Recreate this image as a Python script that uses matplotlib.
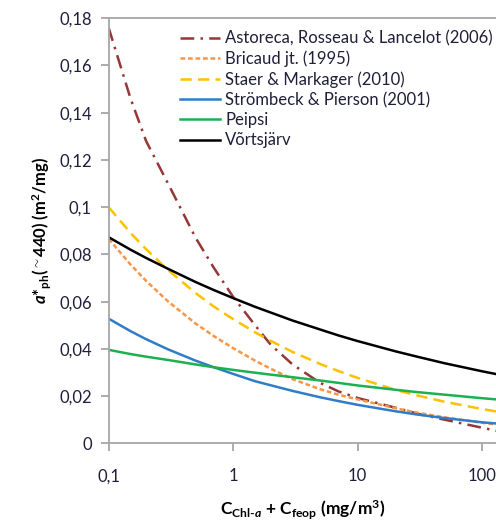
import numpy as np
import matplotlib
matplotlib.use("Agg")
import matplotlib.pyplot as plt
from matplotlib.ticker import FixedLocator, NullLocator

plt.rcParams['font.family'] = ['Lato', 'DejaVu Sans']
plt.rcParams['mathtext.fontset'] = 'custom'
plt.rcParams['mathtext.rm'] = 'Lato:bold'
plt.rcParams['mathtext.it'] = 'Lato:italic:bold'
plt.rcParams['mathtext.bf'] = 'Lato:bold'

# chlorophyll concentration (mg/m3)
conc = [0.1, 0.15, 0.2, 0.3, 0.5, 0.7, 1, 1.5, 2, 3, 5, 7, 10, 20, 30, 50, 100, 130]

astoreca = [0.176, 0.146, 0.128, 0.110, 0.087, 0.0743, 0.062, 0.050, 0.0418, 0.0334,
            0.0256, 0.0220, 0.0192, 0.0151, 0.0126, 0.0100, 0.0066, 0.0053]
bricaud = [0.0866, 0.0757, 0.0688, 0.0601, 0.0507, 0.0454, 0.0403, 0.0350, 0.0316, 0.0272,
           0.0229, 0.0206, 0.0186, 0.0149, 0.0130, 0.0110, 0.0087, 0.0080]
staer = [0.100, 0.0891, 0.0822, 0.0734, 0.0636, 0.0579, 0.0526, 0.0470, 0.0434, 0.0387,
         0.0336, 0.0306, 0.0277, 0.0227, 0.0203, 0.0176, 0.0145, 0.0135]
strombeck = [0.0528, 0.0475, 0.0441, 0.0398, 0.0350, 0.0322, 0.0294, 0.0263, 0.0246, 0.0222,
             0.0195, 0.0179, 0.0163, 0.0136, 0.0122, 0.0107, 0.0089, 0.0084]
peipsi = [0.0396, 0.0378, 0.0367, 0.0353, 0.0334, 0.0322, 0.0311, 0.0299, 0.0291, 0.0280,
          0.0266, 0.0256, 0.0245, 0.0227, 0.0217, 0.0206, 0.0191, 0.0186]
vortsjarv = [0.0873, 0.0820, 0.0785, 0.0739, 0.0683, 0.0649, 0.0615, 0.0578, 0.0554, 0.0520,
             0.0482, 0.0457, 0.0433, 0.0390, 0.0367, 0.0339, 0.0305, 0.0293]

labels = ['Astoreca, Rosseau & Lancelot (2006)', 'Bricaud jt. (1995)',
          'Staer & Markager (2010)', 'Strömbeck & Pierson (2001)', 'Peipsi', 'Võrtsjärv']

xticks = [0.1, 1, 10, 100]
xticklabels = ['0,1', '1', '10', '100']
yticks = [0, 0.02, 0.04, 0.06, 0.08, 0.1, 0.12, 0.14, 0.16, 0.18]
yticklabels = ['0', '0,02', '0,04', '0,06', '0,08', '0,1', '0,12', '0,14', '0,16', '0,18']

fig = plt.figure(figsize=(4.96, 5.22), dpi=100)
ax = fig.add_axes([0.219, 0.1507, 0.781, 0.8143])

lw = 1.8
ax.plot(conc, astoreca, color='#953735', lw=lw, dashes=(5.5, 2.5, 1, 2.5))
ax.plot(conc, bricaud, color='#F79646', lw=lw, dashes=(1.9, 1.1), dash_capstyle='butt')
ax.plot(conc, staer, color='#FFC000', lw=lw, dashes=(4.5, 2.5))
ax.plot(conc, strombeck, color='#2F7CC8', lw=lw)
ax.plot(conc, peipsi, color='#1DB050', lw=lw)
ax.plot(conc, vortsjarv, color='black', lw=lw)

ax.set_xscale('log')
ax.set_xlim(0.1, 129)
ax.set_ylim(0, 0.18)
ax.xaxis.set_major_locator(FixedLocator(xticks))
ax.xaxis.set_minor_locator(NullLocator())
ax.set_xticklabels(xticklabels)
ax.set_yticks(yticks)
ax.set_yticklabels(yticklabels)

gray = '#A6A6A6'
for s in ['left', 'bottom', 'top']:
    ax.spines[s].set_color(gray)
    ax.spines[s].set_linewidth(1.3)
ax.spines['right'].set_visible(False)
ax.tick_params(axis='both', colors=gray, labelcolor='#1F1F3A', labelsize=12,
               direction='out', length=6, width=1.3)
ax.tick_params(axis='x', pad=12)
ax.tick_params(axis='y', pad=6)

ax.set_ylabel(r'$a$*$_{\mathrm{ph}}$($^{\sim}$440) (m$^{2}$/mg)', fontsize=12,
              fontweight='bold', labelpad=4)
ax.set_xlabel(r'C$_{\mathrm{Chl\text{-}}a}$ + C$_{\mathrm{feop}}$ (mg/m$^{3}$)', fontsize=12.5,
              fontweight='bold', labelpad=10)

leg = ax.legend(ax.lines, labels, loc='upper left', bbox_to_anchor=(0.362, 0.942),
                bbox_transform=fig.transFigure, frameon=False, fontsize=12,
                handlelength=2.4, handletextpad=0.35, labelspacing=0.25,
                borderpad=0, borderaxespad=0)
for t in leg.get_texts():
    t.set_color('#1F1F3A')

fig.savefig('out.png', dpi=100)
